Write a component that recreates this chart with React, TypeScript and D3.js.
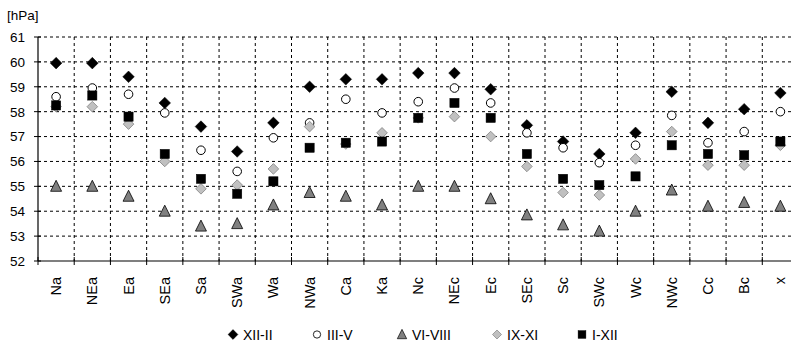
import React from "react";
import * as d3 from "d3";

const categories = ["Na","NEa","Ea","SEa","Sa","SWa","Wa","NWa","Ca","Ka","Nc","NEc","Ec","SEc","Sc","SWc","Wc","NWc","Cc","Bc","x"];
const seriesNames = ["XII-II","III-V","VI-VIII","IX-XI","I-XII"];
const xiiII = [59.95,59.95,59.4,58.35,57.4,56.4,57.55,59.0,59.3,59.3,59.55,59.55,58.9,57.45,56.8,56.3,57.15,58.8,57.55,58.1,58.75];
const iiiV = [58.6,58.95,58.7,57.95,56.45,55.6,56.95,57.55,58.5,57.95,58.4,58.95,58.35,57.15,56.55,55.95,56.65,57.85,56.75,57.2,58.0];
const viVIII = [55.0,55.0,54.6,54.0,53.4,53.5,54.25,54.75,54.6,54.25,55.0,55.0,54.5,53.85,53.45,53.2,54.0,54.85,54.2,54.35,54.2];
const ixXI = [58.2,58.2,57.5,56.0,54.9,55.05,55.7,57.4,56.7,57.15,57.75,57.8,57.0,55.8,54.75,54.65,56.1,57.2,55.85,55.85,56.65];
const iXII = [58.25,58.65,57.8,56.3,55.3,54.7,55.2,56.55,56.75,56.8,57.75,58.35,57.75,56.3,55.3,55.05,55.4,56.65,56.3,56.25,56.8];
const yTicks = [52,53,54,55,56,57,58,59,60,61];

const W = 791, H = 343;
const left = 38, right = 798.5, top = 37, bottom = 261;

export default function App() {
  const x = d3.scaleBand<string>().domain(categories).range([left, right]);
  const y = d3.scaleLinear().domain([52, 61]).range([bottom, top]);
  const bw = x.bandwidth();
  const cx = (c: string) => (x(c) as number) + bw / 2;
  const font = "Liberation Sans, Arial, sans-serif";

  const diamond = (r: number) => `M0,${-r}L${r},0L0,${r}L${-r},0Z`;
  const tri = (s: number) => `M0,${-s * 0.55}L${s / 2},${s * 0.45}L${-s / 2},${s * 0.45}Z`;

  const markers: Record<string, (k: string) => React.ReactNode> = {
    "XII-II": (k) => <path key={k} d={diamond(5.8)} fill="#000" stroke="#000" strokeWidth={0.5} />,
    "III-V": (k) => <circle key={k} r={4.3} fill="#fff" stroke="#000" strokeWidth={1} />,
    "VI-VIII": (k) => <path key={k} d={tri(11)} fill="#808080" stroke="#000" strokeWidth={0.8} />,
    "IX-XI": (k) => <path key={k} d={diamond(5.3)} fill="#c0c0c0" stroke="#808080" strokeWidth={0.8} />,
    "I-XII": (k) => <rect key={k} x={-4.6} y={-4.6} width={9.2} height={9.2} fill="#000" stroke="#000" strokeWidth={0.5} />,
  };
  const data: Record<string, number[]> = {
    "XII-II": xiiII, "III-V": iiiV, "VI-VIII": viVIII, "IX-XI": ixXI, "I-XII": iXII,
  };
  const legendX = [233, 317, 402, 497, 582];

  return (
    <svg width={W} height={H} style={{ position: "absolute", left: 0, top: 0, background: "#fff" }} fontFamily={font}>
      <rect width={W} height={H} fill="#fff" />
      <text x={7} y={20} fontSize={13.5} fill="#000">[hPa]</text>
      {yTicks.filter((t) => t > 52).map((t) => (
        <line key={"h" + t} x1={left} x2={right} y1={y(t)} y2={y(t)} stroke="#000" strokeDasharray="3,3" strokeWidth={1} />
      ))}
      {categories.slice(1).map((c) => (
        <line key={"v" + c} x1={x(c) as number} x2={x(c) as number} y1={top} y2={bottom} stroke="#000" strokeDasharray="3,3" strokeWidth={1} />
      ))}
      <line x1={left} x2={left} y1={top} y2={bottom} stroke="#000" strokeWidth={1.2} />
      <line x1={left} x2={right} y1={bottom} y2={bottom} stroke="#000" strokeWidth={1.2} />
      {yTicks.map((t) => (
        <g key={"yt" + t}>
          <line x1={left - 4} x2={left + 3} y1={y(t)} y2={y(t)} stroke="#000" />
          <text x={25} y={y(t)} dy="0.36em" textAnchor="end" fontSize={13.5} fill="#000">{t}</text>
        </g>
      ))}
      {categories.map((c) => (
        <line key={"xt" + c} x1={x(c) as number} x2={x(c) as number} y1={bottom - 4} y2={bottom + 4} stroke="#000" />
      ))}
      {categories.map((c) => (
        <text key={"xl" + c} transform={`translate(${cx(c) + 5},${277}) rotate(-90)`} textAnchor="end" fontSize={14.5} fill="#000">{c}</text>
      ))}
      {seriesNames.map((s) => (
        <g key={s}>
          {categories.map((c, i) => (
            <g key={c} transform={`translate(${cx(c)},${y(data[s][i])})`}>{markers[s](s + c)}</g>
          ))}
        </g>
      ))}
      {seriesNames.map((s, i) => (
        <g key={"lg" + s}>
          <g transform={`translate(${legendX[i]},${334.5}) scale(0.85)`}>{markers[s]("l" + s)}</g>
          <text x={legendX[i] + 10} y={334.5} dy="0.36em" fontSize={14} fill="#000">{s}</text>
        </g>
      ))}
    </svg>
  );
}
